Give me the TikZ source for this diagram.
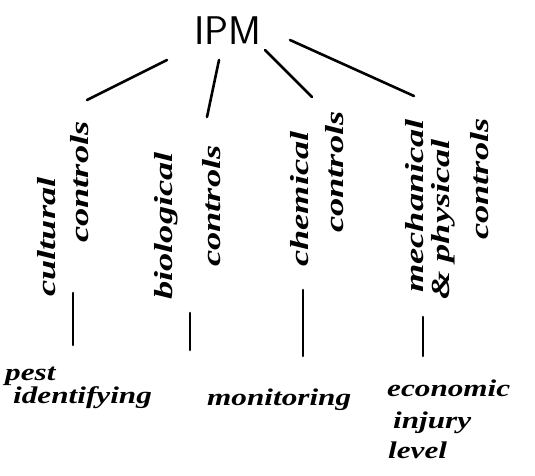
\documentclass[tikz,border=0pt]{standalone}
\usepackage{tikz}
\usepackage{graphicx}
\usepackage{fontspec}
\newfontfamily\handfont{Liberation Serif}

\newcommand{\handw}[1]{\scalebox{1.3}[1]{#1}}
\newcommand{\handup}[1]{\scalebox{1.4}[1]{#1}}

\tikzset{
  branch/.style={line width=2.6pt, line cap=round},
  upword/.style={rotate=90, anchor=west, inner sep=0pt, font=\handfont\fontsize{26}{30}\selectfont\bfseries\itshape},
  lowword/.style={anchor=base west, inner sep=0pt, font=\handfont\fontsize{24}{28}\selectfont\bfseries\itshape}
}

\begin{document}
\begin{tikzpicture}[x=1pt, y=-1pt]
  \useasboundingbox (0,0) rectangle (535,475);

  % draws the root
  \node[inner sep=0pt, font=\fontsize{40}{44}\selectfont\sffamily] (ipm) at (228,31) {IPM};

  % draws the controls
  \node[upword] (cultA) at (47,297) {\handup{cultural}};
  \node[upword] (cultB) at (80,243) {\handup{controls}};
  \node[upword] (bioA) at (166,300) {\handup{biological}};
  \node[upword] (bioB) at (212,267) {\handup{controls}};
  \node[upword] (chemA) at (300,267) {\handup{chemical}};
  \node[upword] (chemB) at (335,233) {\handup{controls}};
  \node[upword] (mechA) at (415,293) {\handup{mechanical}};
  \node[upword] (mechB) at (443,300) {\handup{\& physical}};
  \node[upword] (mechC) at (480,240) {\handup{controls}};

  % draws the tools
  \node[lowword] (pestA) at (5,380) {\handw{pest}};
  \node[lowword] (pestB) at (13,403) {\handw{identifying}};
  \node[lowword] (moni) at (207,405) {\handw{monitoring}};
  \node[lowword] (econA) at (387,396) {\handw{economic}};
  \node[lowword] (econB) at (393,428) {\handw{injury}};
  \node[lowword] (econC) at (388,458) {\handw{level}};

  % end points of the strokes
  \coordinate (r1) at (167,60);  \coordinate (c1) at (87,100);
  \coordinate (r2) at (219,60);  \coordinate (c2) at (207,117);
  \coordinate (r3) at (265,50);  \coordinate (c3) at (312,97);
  \coordinate (r4) at (290,40);  \coordinate (c4) at (414,96);
  \coordinate (u1) at (73,293);  \coordinate (d1) at (73,345);
  \coordinate (u2) at (190,313); \coordinate (d2) at (190,350);
  \coordinate (u3) at (303,290); \coordinate (d3) at (303,356);
  \coordinate (u4) at (423,317); \coordinate (d4) at (423,356);

  % draws the strokes
  \foreach \i in {1,...,4}
    \draw[branch] (r\i) -- (c\i);
  \foreach \i in {1,...,4}
    \draw[branch] (u\i) -- (d\i);
\end{tikzpicture}
\end{document}
